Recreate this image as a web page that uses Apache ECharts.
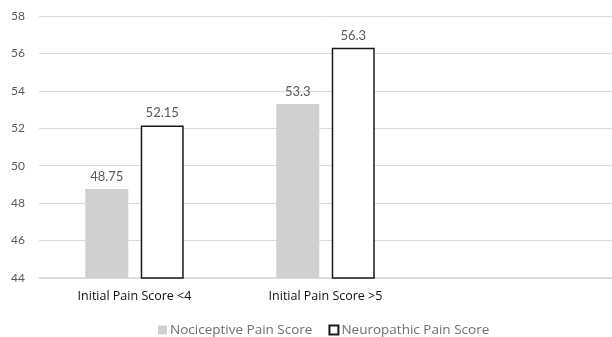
<!DOCTYPE html>
<html>
<head>
<meta charset="utf-8">
<script src="https://cdn.jsdelivr.net/npm/echarts@6/dist/echarts.min.js"></script>
<style>
  html, body { margin: 0; padding: 0; background: #fff; }
  #chart { width: 612px; height: 337px; }
</style>
</head>
<body>
<div id="chart"></div>
<script>
// Categories (the trailing blank slot keeps the chart's empty third column)
const categories = ['Initial Pain Score <4', 'Initial Pain Score >5', ''];
const nociceptive = [48.75, 53.3, null];
const neuropathic = [52.15, 56.3, null];
const yMin = 44, yMax = 58, yStep = 2;

const NUM_FONT = 'Lato, "Open Sans", sans-serif';
const TEXT_FONT = '"Open Sans", Lato, sans-serif';
const chart = echarts.init(document.getElementById('chart'));

const valueLabel = {
  show: true,
  position: 'top',
  distance: 6,
  color: '#595959',
  fontSize: 13,
  fontFamily: NUM_FONT
};

chart.setOption({
  animation: false,
  backgroundColor: '#fff',
  grid: { left: 39, right: -4, top: 16, bottom: 59, containLabel: false },
  legend: {
    top: 318,
    left: 153,
    icon: 'rect',
    itemWidth: 9,
    itemHeight: 9,
    itemGap: 16,
    textStyle: { color: '#6f6f6f', fontSize: 13.5, fontFamily: TEXT_FONT, padding: [0, 0, 0, -2] },
    data: ['Nociceptive Pain Score', 'Neuropathic Pain Score']
  },
  xAxis: {
    type: 'category',
    data: categories,
    axisTick: { show: false },
    axisLine: { lineStyle: { color: '#d9d9d9', width: 1.5 } },
    axisLabel: { color: '#111', fontSize: 12.5, fontFamily: TEXT_FONT, margin: 12 }
  },
  yAxis: {
    type: 'value',
    min: yMin,
    max: yMax,
    interval: yStep,
    axisLine: { show: false },
    axisTick: { show: false },
    splitLine: { lineStyle: { color: '#d9d9d9', width: 1 } },
    axisLabel: { color: '#595959', fontSize: 12, fontFamily: NUM_FONT, margin: 14 }
  },
  series: [
    {
      name: 'Nociceptive Pain Score',
      type: 'bar',
      data: nociceptive,
      barWidth: 43,
      barGap: '29%',
      itemStyle: { color: '#d0d0d0' },
      label: valueLabel
    },
    {
      name: 'Neuropathic Pain Score',
      type: 'bar',
      data: neuropathic,
      barWidth: 43,
      itemStyle: { color: '#ffffff', borderColor: '#1a1a1a', borderWidth: 1.5 },
      label: valueLabel
    }
  ]
});
</script>
</body>
</html>
